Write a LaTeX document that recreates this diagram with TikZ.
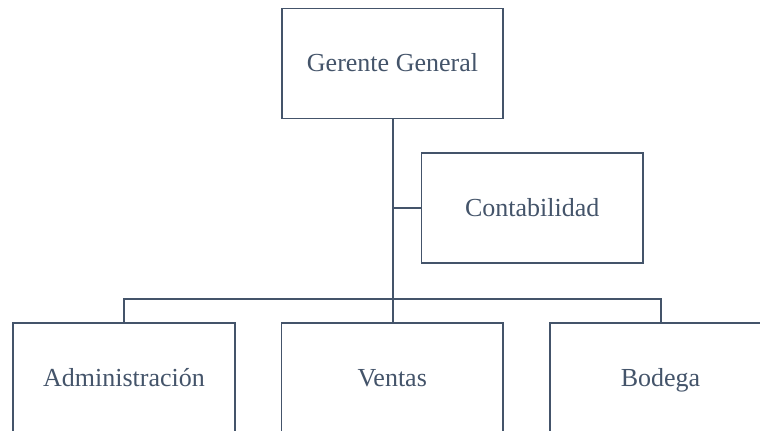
\documentclass[tikz,border=0pt]{standalone}
\usepackage{fontspec}
\setmainfont{Liberation Serif}
\definecolor{slate}{HTML}{44546A}
\begin{document}
\begin{tikzpicture}[x=1bp,y=-1bp,
  orgbox/.style={draw=slate,line width=1.6bp,fill=white,text=slate,
    minimum width=221.5bp,minimum height=110bp,inner sep=0pt,
    text height=19bp,text depth=2bp,
    font=\fontsize{26bp}{30bp}\selectfont},
  link/.style={draw=slate,line width=2bp}]
\useasboundingbox (0,0) rectangle (760,432);
\clip (0,0) rectangle (760,430);
\node[orgbox] (g) at (392.5,63.3) {Gerente General};
\node[orgbox] (c) at (532.2,208) {Contabilidad};
\node[orgbox] (a) at (124,377.7) {Administración};
\node[orgbox] (v) at (392.2,377.7) {Ventas};
\node[orgbox] (b) at (660.5,377.7) {Bodega};
\coordinate (bus) at (392.7,299.3);
\draw[link] (g.south) -- (g.south |- v.north);
\draw[link] (g.south |- c.west) -- (c.west);
\draw[link] (a.north) |- (bus) -| (b.north);
\end{tikzpicture}
\end{document}
